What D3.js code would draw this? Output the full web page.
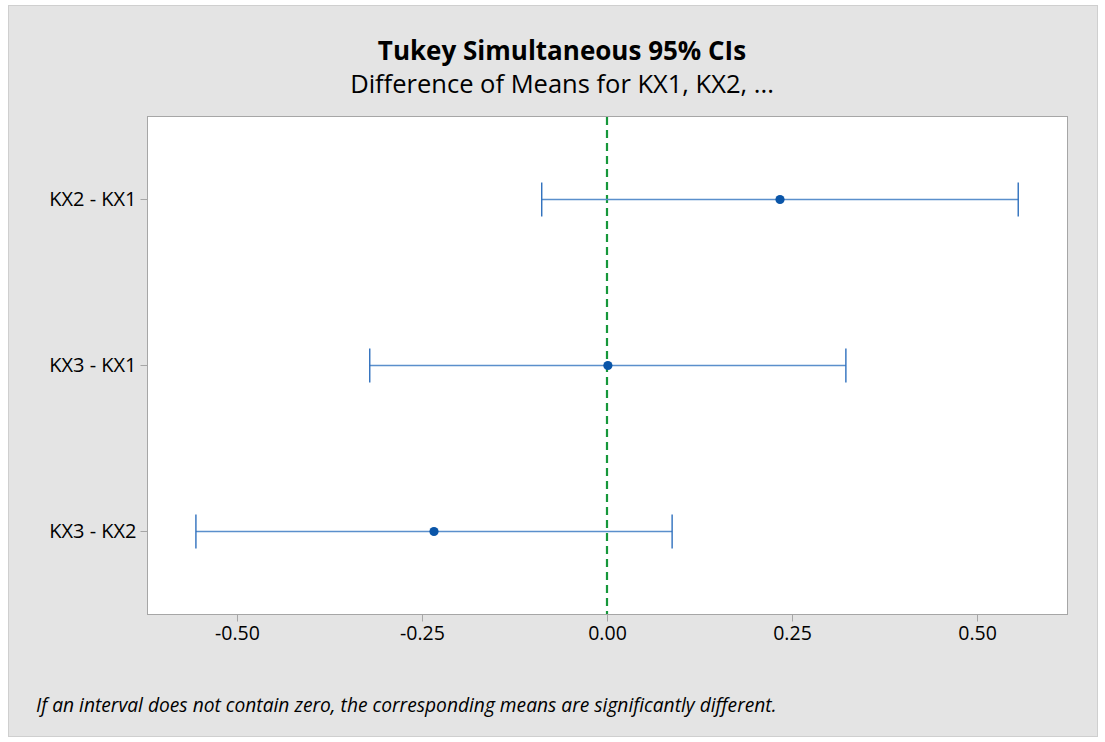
<!DOCTYPE html>
<html>
<head>
<meta charset="utf-8">
<script src="https://cdn.jsdelivr.net/npm/d3@7"></script>
<style>
  html, body { margin: 0; padding: 0; background: #ffffff; }
  svg { display: block; }
  text { font-family: "Open Sans", "Noto Sans", sans-serif; fill: #000; }
</style>
</head>
<body>
<svg id="chart" width="1105" height="742"></svg>
<script>
// ---- data ----
const comparisons = ["KX2 - KX1", "KX3 - KX1", "KX3 - KX2"];
const diffs  = [0.2338, 0.0012, -0.2338];
const lowers = [-0.0882, -0.3206, -0.5555];
const uppers = [0.5557, 0.3228, 0.0880];
const xTicks = [-0.50, -0.25, 0.00, 0.25, 0.50];
const xDomain = [-0.6216, 0.6216];
const titleText = "Tukey Simultaneous 95% CIs";
const subtitleText = "Difference of Means for KX1, KX2, ...";
const noteText = "If an interval does not contain zero, the corresponding means are significantly different.";

// ---- layout ----
const plot = { left: 147, right: 1067, top: 116, bottom: 614 };

const svg = d3.select("#chart");

// outer panel
svg.append("rect")
  .attr("x", 8.5).attr("y", 5.5).attr("width", 1089).attr("height", 731)
  .attr("fill", "#e4e4e4").attr("stroke", "#cfcfcf");

// plot area
svg.append("rect")
  .attr("x", plot.left + 0.5).attr("y", plot.top + 0.5)
  .attr("width", plot.right - plot.left).attr("height", plot.bottom - plot.top)
  .attr("fill", "#ffffff").attr("stroke", "#a6a6a6");

const x = d3.scaleLinear().domain(xDomain).range([plot.left, plot.right]);
const y = d3.scalePoint().domain(comparisons).range([plot.top, plot.bottom]).padding(0.5);

// x axis
const xAxis = d3.axisBottom(x).tickValues(xTicks).tickFormat(d3.format(".2f")).tickSize(7).tickPadding(5);
const gx = svg.append("g").attr("transform", `translate(0,${plot.bottom + 0.5})`).call(xAxis);
gx.select(".domain").remove();
gx.selectAll(".tick line").attr("stroke", "#a6a6a6");
gx.selectAll(".tick text").attr("font-size", 19.5).attr("fill", "#000")
  .attr("font-family", "'Open Sans', 'Noto Sans', sans-serif")
  .text(d => d3.format(".2f")(d).replace("−", "-"));

// y axis
const yAxis = d3.axisLeft(y).tickSize(7).tickPadding(4);
const gy = svg.append("g").attr("transform", `translate(${plot.left + 0.5},0)`).call(yAxis);
gy.select(".domain").remove();
gy.selectAll(".tick line").attr("stroke", "#a6a6a6");
gy.selectAll(".tick text").attr("font-size", 20).attr("fill", "#000")
  .attr("font-family", "'Open Sans', 'Noto Sans', sans-serif");

// zero reference line
svg.append("line")
  .attr("x1", x(0)).attr("x2", x(0))
  .attr("y1", plot.top + 1).attr("y2", plot.bottom)
  .attr("stroke", "#16973a").attr("stroke-width", 2.2)
  .attr("stroke-dasharray", "8,5");

// intervals
const rows = comparisons.map((c, i) => ({ c, d: diffs[i], lo: lowers[i], hi: uppers[i] }));
const g = svg.append("g");
const capH = 17;
const lineColor = "#5a8fcc";
rows.forEach(r => {
  const yy = Math.round(y(r.c)) + 0.5;
  g.append("line").attr("x1", x(r.lo)).attr("x2", x(r.hi)).attr("y1", yy).attr("y2", yy)
    .attr("stroke", lineColor).attr("stroke-width", 1.4);
  [r.lo, r.hi].forEach(v => {
    g.append("line").attr("x1", x(v)).attr("x2", x(v)).attr("y1", yy - capH).attr("y2", yy + capH)
      .attr("stroke", "#2e6fbd").attr("stroke-width", 1.4);
  });
  g.append("circle").attr("cx", x(r.d)).attr("cy", yy).attr("r", 4.6).attr("fill", "#0a55a8");
});

// titles
svg.append("text").attr("x", 562).attr("y", 60).attr("text-anchor", "middle")
  .attr("font-size", 26).attr("font-weight", "bold").text(titleText);
svg.append("text").attr("x", 562).attr("y", 93).attr("text-anchor", "middle")
  .attr("font-size", 25.5).text(subtitleText);

// footnote
svg.append("text").attr("x", 36).attr("y", 712)
  .attr("font-size", 19.2).attr("font-style", "italic").attr("fill", "#1a1a1a").text(noteText);
</script>
</body>
</html>
